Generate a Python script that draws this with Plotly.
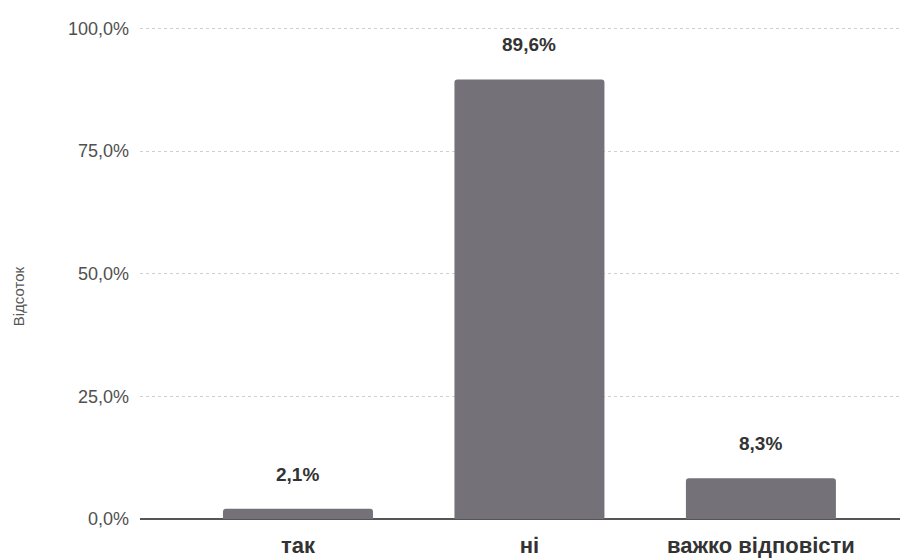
import plotly.graph_objects as go

categories = ["так", "ні", "важко відповісти"]
values = [0.021, 0.896, 0.083]
y_ticks = [0, 0.25, 0.5, 0.75, 1.0]
y_tick_labels = ["0,0%", "25,0%", "50,0%", "75,0%", "100,0%"]
value_labels = [f"{v*100:.1f}%".replace(".", ",") for v in values]
y_title = "Відсоток"

fig = go.Figure()
fig.add_trace(go.Bar(
    x=categories, y=values,
    marker=dict(color="#747178", cornerradius=3, line=dict(width=0)),
    width=0.648,
    hoverinfo="skip",
))
for c, v, t in zip(categories, values, value_labels):
    fig.add_annotation(x=c, y=v, text=f"<b>{t}</b>", showarrow=False,
                       yanchor="bottom", yshift=22,
                       font=dict(size=19, color="#333333", family="Liberation Sans"))

fig.add_annotation(xref="paper", yref="paper", x=-0.157, y=0.453,
                   text=y_title, textangle=-90, showarrow=False,
                   xanchor="center", yanchor="middle",
                   font=dict(size=15, color="#555555", family="Liberation Sans"))

fig.update_layout(
    width=908, height=560,
    margin=dict(l=132, r=0, t=19, b=49),
    paper_bgcolor="white", plot_bgcolor="white",
    showlegend=False,
    font=dict(family="Liberation Sans", color="#444444"),
)
fig.update_xaxes(
    range=[-0.6825, 2.67],
    tickmode="array", tickvals=categories,
    ticktext=[f"<b>{c}</b>" for c in categories],
    tickfont=dict(size=22, color="#333333", family="Liberation Sans"),
    showgrid=False, showline=False, zeroline=False, ticks="",
    ticklabelstandoff=11,
)
fig.update_yaxes(
    range=[0, 1.003],
    tickmode="array", tickvals=y_ticks, ticktext=y_tick_labels,
    tickfont=dict(size=18, color="#505050", family="Liberation Sans"),
    showgrid=True, gridcolor="#cfcfcf", griddash="dot", gridwidth=1,
    zeroline=True, zerolinecolor="#555555", zerolinewidth=1.6,
    showline=False, ticks="", ticklabelstandoff=10,
)

fig.write_html("out.html")
